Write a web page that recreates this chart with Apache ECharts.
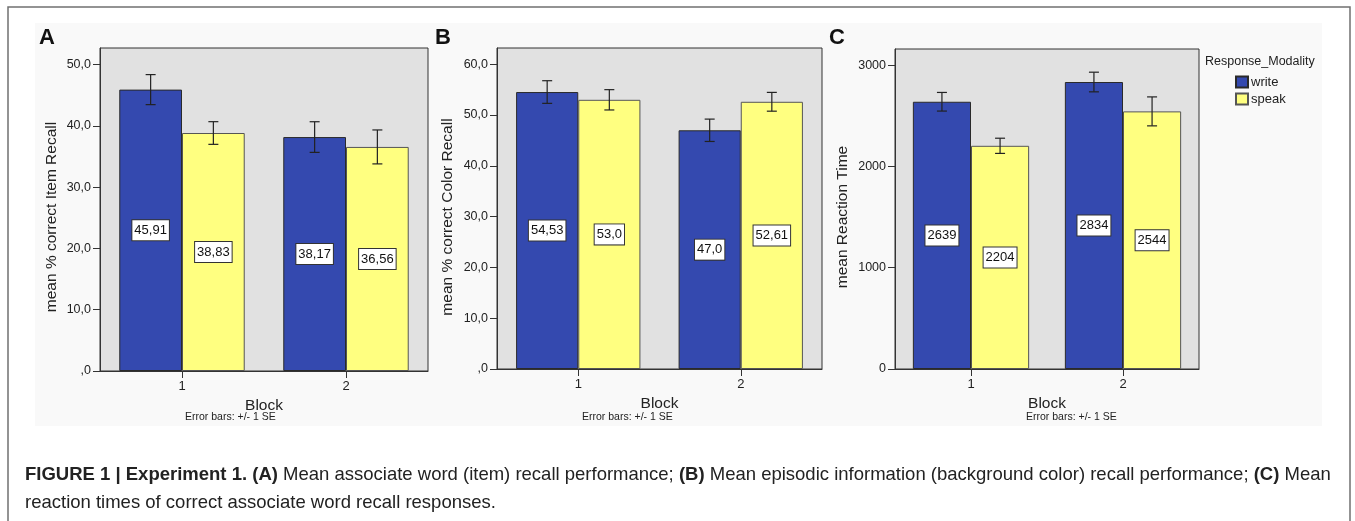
<!DOCTYPE html>
<html>
<head>
<meta charset="utf-8">
<script src="https://cdn.jsdelivr.net/npm/echarts@6/dist/echarts.min.js"></script>
<style>
html,body{margin:0;padding:0;background:#fff;}
#chart{width:1355px;height:521px;}
</style>
</head>
<body>
<div id="chart"></div>
<script>
// ---------------- DATA ----------------
const blocks = ['1', '2'];
const seriesNames = ['write', 'speak'];

// Panel A: mean % correct Item Recall
const itemWrite = [45.91, 38.17];
const itemSpeak = [38.83, 36.56];
const itemWriteSE = [2.45, 2.5];
const itemSpeakSE = [1.85, 2.77];
const itemTicks = [0, 10, 20, 30, 40, 50];

// Panel B: mean % correct Color Recall
const colorWrite = [54.53, 47.0];
const colorSpeak = [53.0, 52.61];
const colorWriteSE = [2.23, 2.2];
const colorSpeakSE = [2.0, 1.85];
const colorTicks = [0, 10, 20, 30, 40, 50, 60];

// Panel C: mean Reaction Time
const rtWrite = [2639, 2834];
const rtSpeak = [2204, 2544];
const rtWriteSE = [92, 97];
const rtSpeakSE = [75, 143];
const rtTicks = [0, 1000, 2000, 3000];

const yTitles = ['mean % correct Item Recall', 'mean % correct Color Recall', 'mean Reaction Time'];
const panelLetters = ['A', 'B', 'C'];
const xTitle = 'Block';
const errNote = 'Error bars: +/- 1 SE';
const legendTitle = 'Response_Modality';
const captionLine1 = [
  ['b', 'FIGURE 1 | Experiment 1. (A)'],
  ['n', ' Mean associate word (item) recall performance; '],
  ['b', '(B)'],
  ['n', ' Mean episodic information (background color) recall performance; '],
  ['b', '(C)'],
  ['n', ' Mean']
];
const captionLine2 = 'reaction times of correct associate word recall responses.';

// ---------------- LAYOUT / STYLE ----------------
const FONT = '"Liberation Sans", Arial, sans-serif';
const BLUE = '#3449AF';
const YELLOW = '#FFFF80';
const GAP = 0.235;

const panels = [
  {write: itemWrite, speak: itemSpeak, wse: itemWriteSE, sse: itemSpeakSE, ticks: itemTicks, max: 52.7, dec: true,
   grid: {left: 100, top: 48, width: 328, height: 323}, nameX: 52, letterX: 47, errX: 185},
  {write: colorWrite, speak: colorSpeak, wse: colorWriteSE, sse: colorSpeakSE, ticks: colorTicks, max: 63.2, dec: true,
   grid: {left: 497, top: 48, width: 325, height: 321}, nameX: 448, letterX: 443, errX: 582},
  {write: rtWrite, speak: rtSpeak, wse: rtWriteSE, sse: rtSpeakSE, ticks: rtTicks, max: 3160, dec: false,
   grid: {left: 895, top: 49, width: 304, height: 320}, nameX: 843, letterX: 837, errX: 1026}
];

function fmtTick(v, dec) {
  if (!dec) return String(v);
  if (v === 0) return ',0';
  return v.toFixed(1).replace('.', ',');
}
function fmtBar(v, dec) {
  if (!dec) return String(Math.round(v));
  let s = String(v);
  if (s.indexOf('.') < 0) s += '.0';
  return s.replace('.', ',');
}

const grids = [], xAxes = [], yAxes = [], series = [], graphics = [];

graphics.push({type: 'rect', silent: true, z: -10,
  shape: {x: 35, y: 23, width: 1287, height: 403}, style: {fill: '#f9f9f9'}});
graphics.push({type: 'rect', silent: true, z: -9,
  shape: {x: 8, y: 7, width: 1342, height: 530}, style: {fill: null, stroke: '#707070', lineWidth: 1.5}});

panels.forEach(function (p, i) {
  grids.push(Object.assign({show: true, backgroundColor: '#e1e1e1', borderColor: '#333', borderWidth: 1}, p.grid));
  xAxes.push({
    type: 'category', gridIndex: i, data: blocks,
    axisLine: {show: true, lineStyle: {color: '#333', width: 1}},
    axisTick: {show: true, alignWithLabel: true, length: 7, lineStyle: {color: '#333'}},
    axisLabel: {color: '#222', fontFamily: FONT, fontSize: 13, margin: 9},
    name: xTitle, nameLocation: 'middle', nameGap: 22,
    nameTextStyle: {color: '#222', fontFamily: FONT, fontSize: 15.5}
  });
  yAxes.push({
    type: 'value', gridIndex: i, min: 0, max: p.max,
    splitLine: {show: false},
    axisLine: {show: true, lineStyle: {color: '#333', width: 1}},
    axisTick: {show: true, length: 7, customValues: p.ticks, lineStyle: {color: '#333'}},
    axisLabel: {customValues: p.ticks, color: '#222', fontFamily: FONT, fontSize: 12.5, margin: 9,
      formatter: (function (dec) { return function (v) { return fmtTick(v, dec); }; })(p.dec)}
  });
  const dec = p.dec;
  const labelCfg = {
    show: true, position: 'inside', color: '#111', fontFamily: FONT, fontSize: 13,
    backgroundColor: '#fff', borderColor: '#333', borderWidth: 1, padding: [4, 2, 3, 2],
    formatter: function (prm) { return fmtBar(prm.value, dec); }
  };
  series.push({
    name: seriesNames[0], type: 'bar', xAxisIndex: i, yAxisIndex: i, data: p.write,
    barGap: '0%', barCategoryGap: (GAP * 100) + '%',
    itemStyle: {color: BLUE, borderColor: '#2a2a2a', borderWidth: 1}, label: labelCfg
  });
  series.push({
    name: seriesNames[1], type: 'bar', xAxisIndex: i, yAxisIndex: i, data: p.speak,
    barGap: '0%', barCategoryGap: (GAP * 100) + '%',
    itemStyle: {color: YELLOW, borderColor: '#555', borderWidth: 1}, label: labelCfg
  });
  [[p.write, p.wse, -1], [p.speak, p.sse, 1]].forEach(function (arr) {
    const vals = arr[0], se = arr[1], side = arr[2];
    series.push({
      type: 'custom', xAxisIndex: i, yAxisIndex: i, z: 10, silent: true,
      data: vals.map(function (v, k) { return [k, v - se[k], v + se[k]]; }),
      encode: {x: 0, y: [1, 2]},
      renderItem: function (params, api) {
        const band = api.size([1, 0])[0];
        const off = side * band * (1 - GAP) / 4;
        const lo = api.coord([api.value(0), api.value(1)]);
        const hi = api.coord([api.value(0), api.value(2)]);
        const x = lo[0] + off;
        const cw = 5;
        const st = {stroke: '#222', lineWidth: 1.2};
        return {type: 'group', children: [
          {type: 'line', shape: {x1: x, y1: lo[1], x2: x, y2: hi[1]}, style: st},
          {type: 'line', shape: {x1: x - cw, y1: lo[1], x2: x + cw, y2: lo[1]}, style: st},
          {type: 'line', shape: {x1: x - cw, y1: hi[1], x2: x + cw, y2: hi[1]}, style: st}
        ]};
      }
    });
  });
  // y axis title
  graphics.push({type: 'text', x: p.nameX, y: 217, rotation: Math.PI / 2,
    style: {text: yTitles[i], font: '15.5px ' + FONT, fill: '#222', align: 'center', verticalAlign: 'middle'}});
  // panel letter
  graphics.push({type: 'text', x: p.letterX, y: 38,
    style: {text: panelLetters[i], font: 'bold 22px ' + FONT, fill: '#111', align: 'center', verticalAlign: 'middle'}});
  // error note
  graphics.push({type: 'text', x: p.errX, y: 417,
    style: {text: errNote, font: '10.5px ' + FONT, fill: '#222', align: 'left', verticalAlign: 'middle'}});
});

// legend title
graphics.push({type: 'text', x: 1205, y: 62,
  style: {text: legendTitle, font: '12.5px ' + FONT, fill: '#222', align: 'left', verticalAlign: 'middle'}});

// caption
const rich = {
  b: {fontFamily: FONT, fontSize: 18.5, fontWeight: 'bold', fill: '#222'},
  n: {fontFamily: FONT, fontSize: 18.5, fill: '#222'}
};
graphics.push({type: 'text', x: 25, y: 475,
  style: {text: captionLine1.map(function (s) { return '{' + s[0] + '|' + s[1] + '}'; }).join(''),
    rich: rich, align: 'left', verticalAlign: 'middle'}});
graphics.push({type: 'text', x: 25, y: 503,
  style: {text: '{n|' + captionLine2 + '}', rich: rich, align: 'left', verticalAlign: 'middle'}});

const option = {
  animation: false,
  backgroundColor: '#ffffff',
  grid: grids, xAxis: xAxes, yAxis: yAxes, series: series,
  legend: {
    data: seriesNames, orient: 'vertical', left: 1235, top: 75, padding: 0,
    itemWidth: 12, itemHeight: 11, itemGap: 3, icon: 'rect',
    textStyle: {color: '#222', fontFamily: FONT, fontSize: 13, lineHeight: 14, padding: [0, 0, 0, -2]},
    selectedMode: false
  },
  graphic: graphics
};

const chart = echarts.init(document.getElementById('chart'), null, {renderer: 'canvas'});
chart.setOption(option);
</script>
</body>
</html>
